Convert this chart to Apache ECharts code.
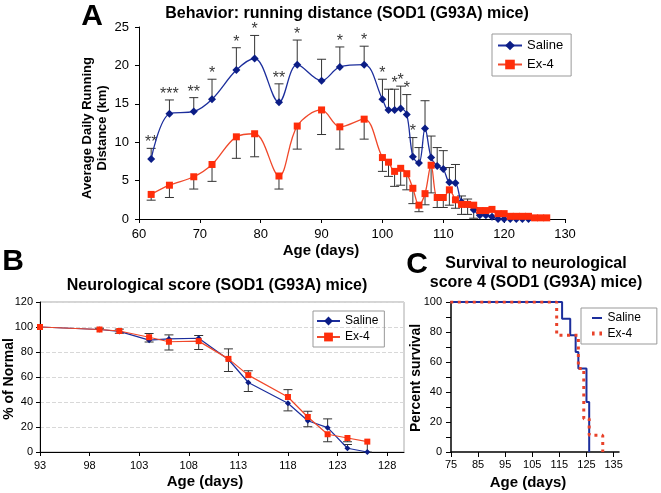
<!DOCTYPE html>
<html><head><meta charset="utf-8">
<script src="https://cdn.jsdelivr.net/npm/echarts@6/dist/echarts.min.js"></script>
<style>html,body{margin:0;padding:0;background:#fff}#c{width:661px;height:493px}</style>
</head><body><div id="c"></div>
<script>
// ---------- Panel A: running distance ----------
const aSalineDays = [62,65,69,72,76,79,83,86,90,93,97,100,101,102,103,104,105,106,107,108,109,110,111,112,113,114,115,116,117,118,119,120,121,122,123,124];
const aSalineKm   = [7.8,13.7,14.0,15.6,19.4,20.9,15.2,20.1,18.0,19.8,20.1,15.6,14.2,14.2,14.4,13.6,8.1,7.3,11.8,8.0,6.9,6.5,4.8,4.7,2.2,1.9,1.2,0.5,0.5,0.3,0,0,0,0,0,0];
const aSalineErr  = [1.4,1.8,1.8,2.6,2.9,3.0,2.4,3.2,2.8,2.6,2.4,2.6,2.7,2.7,2.9,2.6,2.5,2.0,3.6,2.8,2.4,2.4,1.9,2.4,0.8,0.7,0.3,0,0,0,0,0,0,0,0,0];
const aSalineStars= ['**','***','**','*','*','*','**','*','','*','*','*','','*','*','*','*'];
const aEx4Days = [62,65,69,72,76,79,83,86,90,93,97,100,101,102,103,104,105,106,107,108,109,110,111,112,113,114,115,116,117,118,119,120,121,122,123,124,125,126,127];
const aEx4Km   = [3.2,4.4,5.5,7.1,10.7,11.1,5.6,12.1,14.2,12.0,13.0,8.0,7.4,6.2,6.6,5.9,4.0,1.8,3.3,7.0,2.8,2.8,3.8,2.5,1.9,1.9,1.8,1.1,1.1,1.25,0.7,0.7,0.35,0.35,0.35,0.35,0.15,0.15,0.15];
const aEx4Err  = [-0.75,-1.6,-1.6,-2.2,-2.8,-3.0,-1.7,-3.0,-3.2,-2.9,-2.6,-1.8,-1.85,-1.95,-2.2,-2.1,-2.0,-0.85,-1.45,-3.6,-1.3,-1.3,-2.0,-1.1,-1.3,-1.3,-1.7,0,0,0,0,0,0,0,0,0,0,0,0];

// ---------- Panel B: neurological score ----------
const bDays      = [93,99,101,104,106,109,112,114,118,120,122,124,126];
const bSaline    = [100,98,96.5,89.5,90.5,91,74,55.6,39,25,19.5,3,0];
const bEx4       = [100,98,96.8,91.8,88.2,88.7,74.5,61.5,44,28,14.2,11.2,8.3];
const bSalineErr = [0,0,-1.5,-1.5,3.2,2.2,-9.6,-7.2,-6.1,-4.8,7,3,0];
const bEx4Err    = [0,1,1.5,3,-6.6,-6.7,8,3.5,5.9,4.6,-6,-3,-8.3];

// ---------- Panel C: survival (Kaplan-Meier) ----------
const cSalineDays = [0,116,119,121,122,125,126];
const cSalinePct  = [100,88.9,77.8,66.7,55.6,33.3,0];
const cEx4Days    = [0,114,122,124,126,131];
const cEx4Pct     = [100,77.8,55.6,22.2,11.1,0];

const FONT = '"Liberation Sans", Arial, sans-serif';
const BLUE = '#1c2e9c', BLUE_M = '#0b1d86', RED = '#f0482a', RED_M = '#ff2d0a', RED_C = '#e8422a';
const zip = (xs, ys) => xs.map((x, i) => [x, ys[i]]);
const zip3 = (xs, ys, es) => xs.map((x, i) => [x, ys[i], es[i]]);

function errRender(params, api) {
  const x = api.value(0), y = api.value(1), d = api.value(2);
  if (!d) return null;
  const p0 = api.coord([x, y]), p1 = api.coord([x, y + d]);
  const st = {stroke: '#333', lineWidth: 1};
  return {type: 'group', children: [
    {type: 'line', shape: {x1: p0[0], y1: p0[1], x2: p1[0], y2: p1[1]}, style: st},
    {type: 'line', shape: {x1: p1[0] - 4.5, y1: p1[1], x2: p1[0] + 4.5, y2: p1[1]}, style: st}
  ]};
}

const starData = aSalineStars.map((s, i) => ({value: [aSalineDays[i], aSalineKm[i] + aSalineErr[i]], name: s}));

const axisLineBlack = {show: true, lineStyle: {color: '#000', width: 1}};
const txt = (x, y, text, size, extra) => Object.assign({
  type: 'text', x: x, y: y,
  style: Object.assign({text: text, font: 'bold ' + size + 'px ' + FONT, fill: '#000', align: 'center', verticalAlign: 'middle'}, extra || {})
});
const rtxt = (x, y, text, size) => ({
  type: 'text', x: x, y: y, rotation: Math.PI / 2,
  style: {text: text, font: 'bold ' + size + 'px ' + FONT, fill: '#000', align: 'center', verticalAlign: 'middle', lineHeight: 15}
});

// legend icons for panel C (survival curves drawn without markers)
const iconLine = 'path://M0,0L0,0M0,4.5h10v2h-10zM10,11L10,11';
const iconDots = 'path://M0,0L0,0M0,3h2.6v4h-2.6zM7.4,3h2.6v4h-2.6zM10,11L10,11';

const chart = echarts.init(document.getElementById('c'), null, {renderer: 'canvas'});
chart.setOption({
  animation: false,
  textStyle: {fontFamily: FONT},
  grid: [
    {left: 139, top: 27, right: 96, bottom: 274},
    {left: 40, top: 302, right: 257, bottom: 41, show: true, borderColor: '#aaa', borderWidth: 1},
    {left: 451, top: 302, right: 42, bottom: 41}
  ],
  xAxis: [
    {gridIndex: 0, type: 'value', min: 60, max: 130, interval: 10, axisLine: axisLineBlack,
     axisTick: {show: true, length: 4, lineStyle: {color: '#000'}}, splitLine: {show: false},
     axisLabel: {color: '#000', fontSize: 13, margin: 9}},
    {gridIndex: 1, type: 'value', min: 93, max: 129.7, interval: 5, axisLine: axisLineBlack,
     axisTick: {show: true, length: 4, lineStyle: {color: '#000'}}, splitLine: {show: false},
     axisLabel: {color: '#000', fontSize: 11, margin: 8, showMaxLabel: false}},
    {gridIndex: 2, type: 'value', min: 75, max: 137, interval: 10, axisLine: {show: true, lineStyle: {color: '#000', width: 1.5}},
     axisTick: {show: true, length: 5, lineStyle: {color: '#000'}}, splitLine: {show: false},
     axisLabel: {color: '#000', fontSize: 11, margin: 7, showMaxLabel: false}}
  ],
  yAxis: [
    {gridIndex: 0, type: 'value', min: 0, max: 25, interval: 5, axisLine: axisLineBlack,
     axisTick: {show: true, length: 4, lineStyle: {color: '#000'}}, splitLine: {show: false},
     axisLabel: {color: '#000', fontSize: 13, margin: 10}},
    {gridIndex: 1, type: 'value', min: 0, max: 120, interval: 20, axisLine: axisLineBlack,
     axisTick: {show: true, length: 4, lineStyle: {color: '#000'}},
     splitLine: {show: true, lineStyle: {color: '#d8d8d8', type: 'dashed'}},
     axisLabel: {color: '#000', fontSize: 11, margin: 7}},
    {gridIndex: 2, type: 'value', min: 0, max: 100, interval: 10, axisLine: {show: true, lineStyle: {color: '#000', width: 1.5}},
     axisTick: {show: true, length: 5, lineStyle: {color: '#000'}}, splitLine: {show: false},
     axisLabel: {color: '#000', fontSize: 11, margin: 9, formatter: v => (v % 20 === 0 ? String(v) : '')}}
  ],
  legend: [
    {data: ['A|Saline', 'A|Ex-4'], orient: 'vertical', left: 492, top: 34, selectedMode: false,
     formatter: n => n.split('|')[1], itemWidth: 24, itemHeight: 12, itemGap: 6,
     padding: [5, 8, 5, 5], borderColor: '#999', borderWidth: 1,
     textStyle: {fontSize: 13, color: '#000', fontFamily: FONT}},
    {data: ['B|Saline', 'B|Ex-4'], orient: 'vertical', left: 313, top: 311, selectedMode: false,
     formatter: n => n.split('|')[1], itemWidth: 23, itemHeight: 11, itemGap: 4,
     padding: [4, 6, 4, 3], borderColor: '#999', borderWidth: 1,
     textStyle: {fontSize: 12, color: '#000', fontFamily: FONT}},
    {data: [
       {name: 'C|Saline', icon: iconLine, itemStyle: {color: BLUE, borderWidth: 0}},
       {name: 'C|Ex-4', icon: iconDots, itemStyle: {color: RED_C, borderWidth: 0}}
     ], orient: 'vertical', left: 581, top: 308, selectedMode: false,
     formatter: n => n.split('|')[1], itemWidth: 11, itemHeight: 11, itemGap: 4,
     padding: [4, 16, 4, 11], borderColor: '#999', borderWidth: 1,
     textStyle: {fontSize: 12, color: '#000', fontFamily: FONT}}
  ],
  series: [
    // Panel A
    {type: 'custom', name: 'A-err-s', xAxisIndex: 0, yAxisIndex: 0, renderItem: errRender,
     data: zip3(aSalineDays, aSalineKm, aSalineErr), encode: {x: 0, y: 1}, z: 1},
    {type: 'custom', name: 'A-err-e', xAxisIndex: 0, yAxisIndex: 0, renderItem: errRender,
     data: zip3(aEx4Days, aEx4Km, aEx4Err), encode: {x: 0, y: 1}, z: 1},
    {type: 'line', name: 'A|Saline', xAxisIndex: 0, yAxisIndex: 0, data: zip(aSalineDays, aSalineKm),
     smooth: 0.35, symbol: 'diamond', symbolSize: 8, lineStyle: {color: BLUE, width: 1.3},
     itemStyle: {color: BLUE_M}, z: 3},
    {type: 'line', name: 'A|Ex-4', xAxisIndex: 0, yAxisIndex: 0, data: zip(aEx4Days, aEx4Km),
     smooth: 0.35, symbol: 'rect', symbolSize: 7, lineStyle: {color: RED, width: 1.3},
     itemStyle: {color: RED_M}, z: 3},
    {type: 'scatter', name: 'A-stars', xAxisIndex: 0, yAxisIndex: 0, data: starData,
     symbolSize: 1, itemStyle: {color: 'rgba(0,0,0,0)'}, silent: true,
     label: {show: true, position: 'top', distance: -3, formatter: p => p.name,
             fontSize: 16, color: '#000', fontFamily: FONT}},
    // Panel B
    {type: 'custom', name: 'B-err-s', xAxisIndex: 1, yAxisIndex: 1, renderItem: errRender,
     data: zip3(bDays, bSaline, bSalineErr), encode: {x: 0, y: 1}, z: 1},
    {type: 'custom', name: 'B-err-e', xAxisIndex: 1, yAxisIndex: 1, renderItem: errRender,
     data: zip3(bDays, bEx4, bEx4Err), encode: {x: 0, y: 1}, z: 1},
    {type: 'line', name: 'B|Saline', xAxisIndex: 1, yAxisIndex: 1, data: zip(bDays, bSaline),
     symbol: 'diamond', symbolSize: 6, lineStyle: {color: BLUE, width: 1.2},
     itemStyle: {color: BLUE_M}, z: 3},
    {type: 'line', name: 'B|Ex-4', xAxisIndex: 1, yAxisIndex: 1, data: zip(bDays, bEx4),
     symbol: 'rect', symbolSize: 6, lineStyle: {color: RED, width: 1.2},
     itemStyle: {color: RED_M}, z: 3},
    // Panel C
    {type: 'line', name: 'C|Saline', xAxisIndex: 2, yAxisIndex: 2, data: zip(cSalineDays, cSalinePct),
     step: 'end', symbol: 'none', lineStyle: {color: BLUE, width: 2}, itemStyle: {color: BLUE}, z: 3},
    {type: 'line', name: 'C|Ex-4', xAxisIndex: 2, yAxisIndex: 2, data: zip(cEx4Days, cEx4Pct),
     step: 'end', symbol: 'none', lineStyle: {color: RED_C, width: 3, type: [3, 4.5]},
     itemStyle: {color: RED_C}, z: 4}
  ],
  graphic: [
    txt(92, 17, 'A', 30),
    txt(347, 14, 'Behavior: running distance (SOD1 (G93A) mice)', 16),
    rtxt(95, 128, 'Average Daily Running\nDistance (km)', 13),
    txt(321, 251, 'Age (days)', 15),
    txt(13, 262, 'B', 30),
    txt(217, 286, 'Neurological score (SOD1 (G93A) mice)', 16),
    rtxt(9, 379, '% of Normal', 14),
    txt(205, 482, 'Age (days)', 15),
    txt(417, 265, 'C', 30),
    txt(536, 264, 'Survival to neurological', 16),
    txt(536, 283, 'score 4 (SOD1 (G93A) mice)', 16),
    rtxt(416, 378, 'Percent survival', 14),
    txt(528, 483, 'Age (days)', 15)
  ]
});
</script></body></html>
